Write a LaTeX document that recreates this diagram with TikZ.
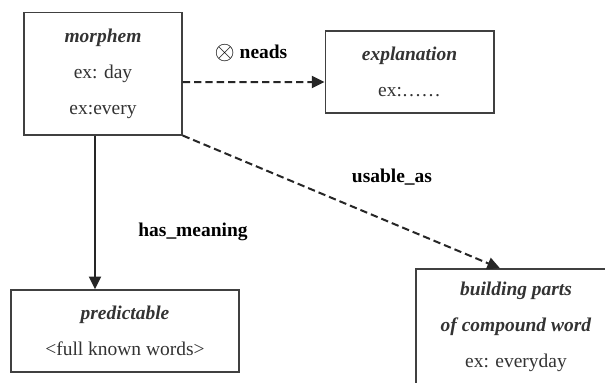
\documentclass[tikz,border=0pt]{standalone}
\usepackage{fontspec}
\setmainfont{Liberation Serif}
\usetikzlibrary{arrows.meta}
\begin{document}
\begin{tikzpicture}[x=0.75pt,y=-0.75pt,
  box/.style={draw=black!75,line width=1pt,fill=white,align=center,inner sep=0pt,
    font=\fontsize{14.6}{27}\selectfont,text=black!80},
  lbl/.style={font=\fontsize{14.6}{17}\selectfont\bfseries,text=black},
  conn/.style={line width=1.5pt,draw=black!85,-{Triangle[length=9.5pt,width=9pt]}},
  dconn/.style={conn,dash pattern=on 5.5pt off 3pt}]
\useasboundingbox (0,0) rectangle (605,382);
\clip (0,0) rectangle (605,382);
\fill[white] (0,0) rectangle (605,382);
\node[box,minimum width=118.5pt,minimum height=92pt] (morphem) at (103,73.5)
  {\textbf{\textit{morphem}}\\ex: day\\ex:every};
\node[box,minimum width=126.5pt,minimum height=61.5pt] (explanation) at (409.5,72)
  {\textbf{\textit{explanation}}\\ex:\dots\dots};
\node[box,minimum width=171pt,minimum height=61.5pt] (predictable) at (125,331)
  {\textbf{\textit{predictable}}\\<full known words>};
\node[box,minimum width=150pt,minimum height=87pt] (building) at (516,327)
  {\textbf{\textit{building parts}}\\\textbf{\textit{of compound word}}\\ex: everyday};
\draw[dconn] ([yshift=-6.4pt]morphem.east) -- ([yshift=-7.5pt]explanation.west);
\draw[dconn] (morphem.south east) -- ([xshift=-12pt]building.north);
\draw[conn] ([xshift=-6pt]morphem.south) coordinate (s) -- (s |- predictable.north);
\node[lbl] (l1) at (251,53) {\raisebox{-0.5pt}{\scalebox{1.35}{$\otimes$}} neads};
\node[lbl] (l2) at (392,177) {usable\_as};
\node[lbl] (l3) at (193,232) {has\_meaning};
\end{tikzpicture}
\end{document}
